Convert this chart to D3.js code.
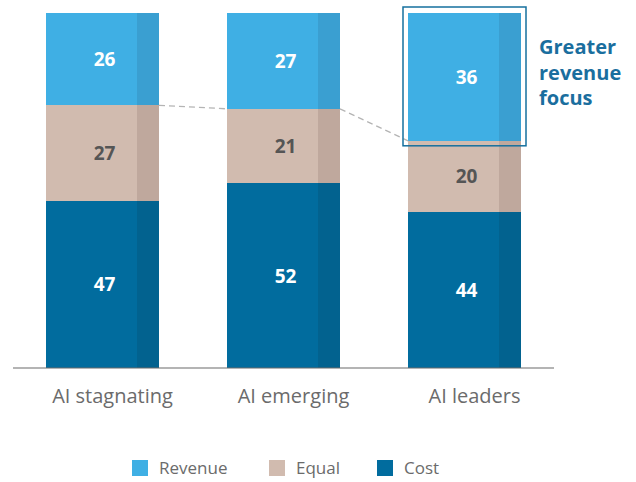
<!DOCTYPE html>
<html><head><meta charset="utf-8">
<script src="https://cdn.jsdelivr.net/npm/d3@7"></script>
<style>body{margin:0;background:#fff}svg{display:block}</style>
</head><body><svg id="c" width="636" height="482"></svg>
<script>
const categories = ["AI stagnating", "AI emerging", "AI leaders"];
const seriesNames = ["Cost", "Equal", "Revenue"];
const cost = [47, 52, 44];
const equal = [27, 21, 20];
const revenue = [26, 27, 36];
const legendOrder = ["Revenue", "Equal", "Cost"];

const colors = {Revenue: "#3FAFE4", Equal: "#D1BBAF", Cost: "#016C9E"};
const darkColors = {Revenue: "#3A9FD1", Equal: "#BFA89D", Cost: "#02628F"};
const labelColors = {Revenue: "#fff", Equal: "#555", Cost: "#fff"};

const svg = d3.select("#c");
const x = d3.scaleBand().domain(categories).range([46, 521]).paddingInner(68/181).paddingOuter(0);
const y = d3.scaleLinear().domain([0, 100]).range([368, 13]);

const rows = categories.map((c, i) => ({cat: c, Cost: cost[i], Equal: equal[i], Revenue: revenue[i]}));
const stack = d3.stack().keys(seriesNames)(rows);

const g = svg.append("g");
const bw = x.bandwidth();
const strip = 22;

stack.forEach(layer => {
  const key = layer.key;
  const lg = g.append("g").attr("shape-rendering", "crispEdges");
  lg.selectAll("rect.main").data(layer).join("rect")
    .attr("x", d => x(d.data.cat)).attr("y", d => y(d[1]))
    .attr("width", bw - strip).attr("height", d => y(d[0]) - y(d[1]))
    .attr("fill", colors[key]);
  lg.selectAll("rect.strip").data(layer).join("rect")
    .attr("x", d => x(d.data.cat) + bw - strip).attr("y", d => y(d[1]))
    .attr("width", strip).attr("height", d => y(d[0]) - y(d[1]))
    .attr("fill", darkColors[key]);
  lg.selectAll("text").data(layer).join("text")
    .attr("x", d => x(d.data.cat) + bw/2 + 2)
    .attr("y", d => (y(d[0]) + y(d[1]))/2)
    .attr("dy", "0.36em")
    .attr("text-anchor", "middle")
    .attr("font-family", "'Open Sans', sans-serif").attr("font-weight", 700)
    .attr("font-size", 19).attr("fill", labelColors[key])
    .text(d => d.data[key]);
});

// dashed connectors between Equal tops
const eqLayer = stack[1];
for (let i = 0; i < eqLayer.length - 1; i++) {
  const a = eqLayer[i], b = eqLayer[i+1];
  g.append("line")
    .attr("x1", x(a.data.cat) + bw).attr("y1", y(a[1]))
    .attr("x2", x(b.data.cat)).attr("y2", y(b[1]))
    .attr("stroke", "#b4b4b4").attr("stroke-width", 1.3).attr("stroke-dasharray", "6,4");
}

// baseline axis
g.append("line").attr("x1", 13).attr("x2", 554).attr("y1", 368).attr("y2", 368)
  .attr("stroke", "#6b6b6b").attr("stroke-width", 1.2);

// category labels
g.selectAll("text.cat").data(categories).join("text")
  .attr("class", "cat")
  .attr("x", d => x(d) + bw/2 + 10).attr("y", 403)
  .attr("text-anchor", "middle")
  .attr("font-family", "'Open Sans', sans-serif").attr("font-weight", 400)
  .attr("font-size", 20).attr("fill", "#6b6b6b")
  .text(d => d);

// highlight box around leaders revenue
const rl = stack[2][2];
g.append("rect")
  .attr("x", x(categories[2]) - 5).attr("y", y(rl[1]) - 6)
  .attr("width", bw + 10).attr("height", y(rl[0]) - y(rl[1]) + 11)
  .attr("fill", "none").attr("stroke", "#16709E").attr("stroke-width", 1.5);

const ann = svg.append("text").attr("x", 539).attr("y", 54)
  .attr("font-family", "'Open Sans', sans-serif").attr("font-weight", 700)
  .attr("font-size", 20).attr("fill", "#1A6E9E");
["Greater", "revenue", "focus"].forEach((t, i) => ann.append("tspan").attr("x", 539).attr("dy", i ? 25.5 : 0).text(t));

// legend
const legX = [132, 269, 377];
const lg = svg.append("g");
legendOrder.forEach((k, i) => {
  lg.append("rect").attr("x", legX[i]).attr("y", 460).attr("width", 16).attr("height", 16).attr("fill", colors[k]);
  lg.append("text").attr("x", legX[i] + 27).attr("y", 474)
    .attr("font-family", "'Open Sans', sans-serif").attr("font-size", 17).attr("fill", "#6b6b6b").text(k);
});
</script></body></html>
